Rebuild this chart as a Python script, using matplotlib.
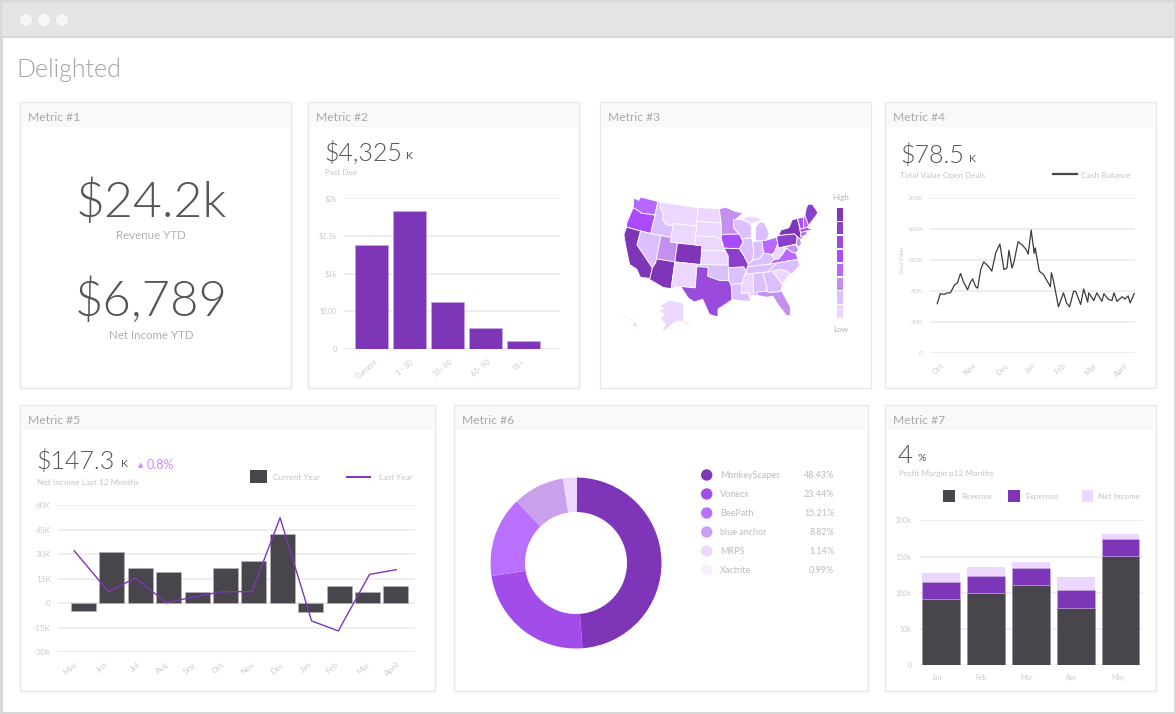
import numpy as np
import matplotlib
matplotlib.use("Agg")
import matplotlib.pyplot as plt
from matplotlib.patches import Rectangle, Circle

W, H = 1176, 714
plt.rcParams['font.family'] = ['Lato', 'DejaVu Sans']

# ----------------------------------------------------------------------
# data
# ----------------------------------------------------------------------
aging_labels = ["Current", "1 - 30", "31- 60", "60- 90", "91+"]
aging_values = [1375, 1831, 625, 275, 102]

cash_days = [0, 3, 7, 10, 13, 17, 20, 23, 26, 30, 33, 35, 38, 40, 43, 46, 50, 53, 54, 58, 62, 66, 69, 71, 74, 76,
             80, 84, 88, 90, 93, 96, 97, 101, 105, 112, 113, 115, 120, 125, 128, 131, 135, 137, 142, 145, 149, 150,
             155, 158, 163, 165, 169, 173, 175, 178, 183, 186, 189, 191, 195]
cash_values = [64, 77, 76, 78, 78, 88, 91, 103, 92, 82, 92, 96, 86, 84, 108, 118, 113, 108, 106, 130, 141, 108, 110,
               133, 110, 118, 144, 140, 134, 128, 159, 129, 136, 106, 102, 86, 104, 94, 60, 78, 65, 60, 80, 80, 63,
               83, 66, 78, 68, 78, 67, 77, 70, 68, 78, 67, 73, 70, 74, 65, 77]
cash_ticks = [1, 32, 64, 92, 122, 152, 182]
cash_labels = ["Oct", "Nov", "Dec", "Jan", "Feb", "Mar", "April"]

income_current = [-4.9, 31.4, 21.4, 19, 7.1, 21.4, 26.1, 42.6, -5.1, 10.8, 7.1, 10.8]
income_last_x = [-0.33, 0.885, 1.82, 2.92, 3.9, 4.86, 5.93, 6.92, 8.03, 8.97, 10.07, 11.01]
income_last = [32.2, 7.1, 15.5, 0.4, 3.9, 7.1, 7.1, 52.4, -10.8, -16.9, 17.7, 20.6]
income_ticks = [-0.47, 0.67, 1.81, 2.77, 3.72, 4.73, 5.76, 6.82, 7.83, 8.73, 9.86, 10.87]
income_labels = ["May", "Jun", "Jul", "Aug", "Sep", "Oct", "Nov", "Dec", "Jan", "Feb", "Mar", "April"]

donut_names = ["MonkeyScapes", "Vonecx", "BeePath", "blue anchor", "MRPS", "Xactrite"]
donut_pct = ["48.43%", "23.44%", "15.21%", "8.82%", "1.14%", "0.99%"]
donut_wedges = [48.6, 23.75, 15.2, 9.8, 2.65]
donut_colors = ["#7e35b8", "#a24de9", "#b970ff", "#c9a0ec", "#ecd8ff", "#f8f0ff"]

margin_months = ["Jan", "Feb", "Mar", "Apr", "May"]
margin_ticks = [-0.10, 0.89, 1.9, 2.9, 3.95]
revenue = [92, 99.4, 111.3, 78.7, 150.9]
expenses = [23.5, 24.3, 23.5, 24.8, 23.4]
net_income = [11.9, 12, 7.2, 18.9, 6.7]

map_colors = ["#ecd8ff", "#dcbfff", "#c58ff0", "#b769ff", "#aa4bff", "#9a4bdc", "#8a3fcd", "#7e35b8"]

state_shapes = {
    "WA": [(-124.7, 48.4), (-123, 48.2), (-122.8, 49), (-117, 49), (-117, 46), (-119, 45.9), (-121, 45.7), (-123, 46.2), (-124, 46.3)],
    "OR": [(-124, 46.3), (-123, 46.2), (-121, 45.7), (-119, 45.9), (-117, 46), (-116.9, 45), (-117, 44.2), (-117, 42), (-124.2, 42), (-124.5, 43)],
    "CA": [(-124.2, 42), (-120, 42), (-120, 39), (-114.6, 35), (-114.7, 32.7), (-117.1, 32.5), (-118.5, 34), (-120.6, 34.6), (-122, 36.8), (-123.8, 39.5), (-124.3, 40.4)],
    "NV": [(-120, 42), (-114, 42), (-114, 36.2), (-114.6, 35), (-120, 39)],
    "ID": [(-117, 49), (-116, 49), (-116, 48), (-114.5, 46.6), (-114.5, 45.6), (-113, 44.5), (-111, 44.5), (-111, 42), (-117, 42), (-117, 44.2), (-116.9, 45), (-117, 46)],
    "MT": [(-116, 49), (-104, 49), (-104, 45), (-111, 45), (-111, 44.5), (-113, 44.5), (-114.5, 45.6), (-114.5, 46.6), (-116, 48)],
    "WY": [(-111, 45), (-104, 45), (-104, 41), (-111, 41)],
    "UT": [(-114, 42), (-111, 42), (-111, 41), (-109, 41), (-109, 37), (-114, 37)],
    "CO": [(-109, 41), (-102, 41), (-102, 37), (-109, 37)],
    "AZ": [(-114, 37), (-109, 37), (-109, 31.3), (-111, 31.3), (-114.8, 32.5), (-114.7, 32.7), (-114.6, 35), (-114, 36.2)],
    "NM": [(-109, 37), (-103, 37), (-103, 32), (-106.6, 32), (-106.5, 31.8), (-108.2, 31.8), (-108.2, 31.3), (-109, 31.3)],
    "ND": [(-104, 49), (-97.2, 49), (-96.6, 46), (-104, 46)],
    "SD": [(-104, 46), (-96.6, 46), (-96.5, 42.5), (-98.5, 43), (-104, 43)],
    "NE": [(-104, 43), (-98.5, 43), (-96.5, 42.5), (-95.3, 40), (-102, 40), (-102, 41), (-104, 41)],
    "KS": [(-102, 40), (-95.3, 40), (-94.6, 39), (-94.6, 37), (-102, 37)],
    "OK": [(-103, 37), (-94.6, 37), (-94.5, 33.7), (-97, 33.8), (-100, 34.6), (-100, 36.5), (-103, 36.5)],
    "TX": [(-103, 36.5), (-100, 36.5), (-100, 34.6), (-97, 33.8), (-94.5, 33.7), (-94, 33), (-93.8, 31.5), (-93.8, 29.7), (-95, 29), (-97.2, 27.7), (-97.2, 26), (-99.2, 26.5), (-101, 29.7), (-103, 29), (-104.5, 29.7), (-106.5, 31.8), (-106.6, 32), (-103, 32)],
    "MN": [(-97.2, 49), (-95, 49.3), (-92, 48.3), (-89.6, 48), (-92, 46.7), (-92.8, 45.6), (-92.8, 44.8), (-91.2, 43.5), (-96.5, 43.5), (-96.6, 46)],
    "IA": [(-96.5, 43.5), (-91.2, 43.5), (-90.2, 41.8), (-91.4, 40.4), (-95.7, 40.6), (-96.5, 42.5)],
    "MO": [(-95.7, 40.6), (-91.4, 40.4), (-90.2, 38.8), (-89.2, 37), (-89.7, 36), (-90.4, 36), (-90.4, 36.5), (-94.6, 36.5), (-94.6, 39), (-95.3, 40)],
    "AR": [(-94.6, 36.5), (-90.4, 36.5), (-90.4, 36), (-89.7, 36), (-91.2, 33), (-94, 33), (-94.5, 33.7)],
    "LA": [(-94, 33), (-91.2, 33), (-91.5, 31), (-89.7, 31), (-89.5, 30.2), (-89.2, 29.2), (-91, 29.3), (-93.8, 29.7), (-93.8, 31.5)],
    "WI": [(-92.8, 46.6), (-90.5, 46.6), (-88, 45.8), (-87.5, 45), (-87.8, 42.5), (-90.6, 42.5), (-91.2, 43.5), (-92.8, 44.8), (-92.8, 45.6)],
    "IL": [(-90.6, 42.5), (-87.8, 42.5), (-87.5, 41.7), (-87.5, 39), (-88, 37.8), (-89.2, 37), (-90.2, 38.8), (-91.4, 40.4), (-90.2, 41.8)],
    "MI": [(-86.8, 41.8), (-84.8, 41.7), (-83.5, 41.7), (-82.5, 43), (-82.8, 44), (-83.5, 45.4), (-84.8, 45.7), (-86.2, 44.7), (-86.5, 43)],
    "MI2": [(-90.5, 46.6), (-88, 47.2), (-85, 46.7), (-84.2, 46), (-87.5, 45.5), (-88, 45.8)],
    "IN": [(-87.5, 41.7), (-84.8, 41.7), (-84.8, 39.1), (-86, 38), (-88, 37.8), (-87.5, 39)],
    "OH": [(-84.8, 41.7), (-83.5, 41.7), (-80.5, 42), (-80.5, 40.6), (-81.7, 39), (-82.6, 38.5), (-84.8, 39.1)],
    "KY": [(-89.2, 37), (-88, 37.8), (-86, 38), (-84.8, 39.1), (-82.6, 38.5), (-82, 37.5), (-83.7, 36.6), (-89.4, 36.5)],
    "TN": [(-89.7, 36), (-89.4, 36.5), (-83.7, 36.6), (-81.7, 36.6), (-84.3, 35), (-90, 35)],
    "MS": [(-91.2, 33), (-90.3, 35), (-88.2, 35), (-88.4, 30.3), (-89.5, 30.2), (-89.7, 31), (-91.5, 31)],
    "AL": [(-88.2, 35), (-85.6, 35), (-85, 32), (-85, 31), (-87.6, 31), (-87.5, 30.3), (-88.4, 30.3)],
    "GA": [(-85.6, 35), (-83.1, 35), (-81, 32), (-81.5, 30.7), (-82.2, 30.5), (-84.9, 30.7), (-85, 31), (-85, 32)],
    "FL": [(-87.6, 31), (-85, 31), (-84.9, 30.7), (-82.2, 30.5), (-81.5, 30.7), (-80, 27), (-80.3, 25.2), (-81.2, 25.2), (-82.8, 27.8), (-83.8, 29.8), (-85.3, 29.7), (-87.5, 30.3)],
    "SC": [(-83.1, 35), (-81, 35.2), (-79.7, 34.8), (-78.6, 33.9), (-81, 32)],
    "NC": [(-84.3, 35), (-81.7, 36.6), (-75.9, 36.6), (-75.6, 35.3), (-78, 33.9), (-78.6, 33.9), (-79.7, 34.8), (-81, 35.2), (-83.1, 35)],
    "VA": [(-83.7, 36.6), (-75.9, 36.6), (-76, 37.9), (-77.2, 38.4), (-78.3, 39.4), (-79.5, 38.4), (-81, 37.4), (-82, 37.5)],
    "WV": [(-82.6, 38.5), (-81.7, 39), (-80.5, 40.6), (-80.5, 39.7), (-79.5, 39.7), (-78.3, 39.4), (-79.5, 38.4), (-81, 37.4), (-82, 37.5)],
    "PA": [(-80.5, 42), (-79.8, 42.3), (-75.3, 42), (-74.7, 41.3), (-75.4, 39.8), (-80.5, 39.7)],
    "NY": [(-79.8, 42.3), (-79, 43.3), (-76.5, 43.5), (-75, 45), (-73.4, 45), (-73.5, 42), (-73.7, 41), (-72, 41), (-74, 40.6), (-74.7, 41.3), (-75.3, 42)],
    "NJ": [(-74.7, 41.3), (-74, 40.6), (-74, 39.6), (-75, 39), (-75.4, 39.8)],
    "MD": [(-79.5, 39.7), (-75.7, 39.7), (-75.1, 38.5), (-76, 38), (-77.2, 38.4), (-78.3, 39.4)],
    "CT": [(-73.5, 42), (-71.8, 42), (-71.8, 41.3), (-73.7, 41)],
    "MA": [(-73.5, 42.7), (-71.3, 42.7), (-70, 41.8), (-71.8, 42), (-73.5, 42)],
    "VT": [(-73.4, 45), (-71.5, 45), (-72.4, 42.7), (-73.3, 42.7)],
    "NH": [(-71.5, 45), (-71, 45.2), (-70.7, 43), (-71.3, 42.7), (-72.4, 42.7)],
    "ME": [(-71, 45.2), (-70, 46.7), (-69, 47.4), (-67.8, 47), (-67, 45), (-70.7, 43)],
}
state_levels = {
    "WA": 4, "OR": 5, "CA": 8, "NV": 2, "ID": 2, "MT": 1, "WY": 1, "UT": 3, "CO": 8, "AZ": 8, "NM": 1, "ND": 1,
    "SD": 1, "NE": 1, "KS": 1, "OK": 2, "TX": 6, "MN": 3, "IA": 5, "MO": 7, "AR": 2, "LA": 2, "WI": 2, "IL": 2,
    "MI": 2, "MI2": 1, "IN": 2, "OH": 4, "KY": 2, "TN": 2, "MS": 1, "AL": 2, "GA": 2, "FL": 3, "SC": 1, "NC": 2,
    "VA": 4, "WV": 1, "PA": 7, "NY": 8, "NJ": 3, "MD": 3, "CT": 4, "MA": 5, "VT": 5, "NH": 4, "ME": 7,
}
alaska_shape = [(-168, 65.5), (-162, 67), (-166, 68.5), (-156, 71.3), (-141, 69.7), (-141, 60.2), (-137, 59), (-130, 55),
                (-133, 56.5), (-140, 59.8), (-147, 60.5), (-152, 59), (-157, 57), (-164, 54.5), (-160, 58.5), (-166, 61.5), (-161, 64)]
hawaii_shapes = [[(-155.9, 20.2), (-155, 19.7), (-155.6, 19), (-156, 19.5)],
                 [(-156.7, 21), (-156, 20.8), (-156.4, 20.5)],
                 [(-158.3, 21.5), (-157.7, 21.5), (-158, 21.3)],
                 [(-159.8, 22.2), (-159.3, 22.2), (-159.5, 21.9)]]

# ----------------------------------------------------------------------
# helpers, everything is placed in pixels of the 1176x714 picture
# ----------------------------------------------------------------------
DARK = "#48454d"
PURPLE = "#7d36b8"
TXT = "#555555"
LABEL = "#c4c4c4"
GRID = "#ebebeb"
LIGHT = 300

fig = plt.figure(figsize=(W / 100, H / 100), dpi=100, facecolor="white")
bg = fig.add_axes([0, 0, 1, 1])
bg.set_xlim(0, W)
bg.set_ylim(H, 0)
bg.axis("off")


def px_axes(x0, y0, x1, y1):
    ax = fig.add_axes([x0 / W, 1 - y1 / H, (x1 - x0) / W, (y1 - y0) / H])
    ax.patch.set_alpha(0)
    return ax


def box(x0, y0, x1, y1, color, ec="none", lw=0, z=1):
    bg.add_patch(Rectangle((x0, y0), x1 - x0, y1 - y0, fc=color, ec=ec, lw=lw, zorder=z))


def txt(x, y, s, size, color=LABEL, ha="left", weight="normal", rotation=0):
    bg.text(x, y + size * 0.06, s, fontsize=size * 0.72, color=color, ha=ha, va="center", fontweight=weight,
            rotation=rotation, zorder=5)


def card(x0, y0, x1, y1, title):
    box(x0, y0, x1, y1, "white", ec="#e8e8e8", lw=1)
    box(x0 + 0.5, y0 + 0.5, x1 - 0.5, y0 + 25, "#f9f9f9", z=2)
    txt(x0 + 8, y0 + 15, title, 12, color="#a8a8a8")


def style_axes(ax, size, pad=5):
    for s in ax.spines.values():
        s.set_visible(False)
    ax.grid(axis="y", color=GRID, lw=1.2)
    ax.set_axisbelow(True)
    ax.tick_params(length=0, labelsize=size * 0.72, labelcolor="#cccccc", pad=pad)


# ----------------------------------------------------------------------
# window and cards
# ----------------------------------------------------------------------
box(1, 1, W - 1, H - 1, "white", ec="#d6d6d6", lw=2)
box(2, 2, W - 2, 36, "#e4e4e4", z=2)
box(2, 36, W - 2, 38, "#d8d8d8", z=2)
for cx in (26, 44, 62):
    bg.add_patch(Circle((cx, 20), 6, fc="#f6f6f6", ec="none", zorder=3))
txt(16, 68, "Delighted", 25, color="#a3a3a3", weight=LIGHT)

card(20, 102, 291, 388, "Metric #1")
card(308, 102, 579, 388, "Metric #2")
card(600, 102, 871, 388, "Metric #3")
card(885, 102, 1156, 388, "Metric #4")
card(20, 405, 435, 691, "Metric #5")
card(454, 405, 868, 691, "Metric #6")
card(885, 405, 1156, 691, "Metric #7")

# ----------------------------------------------------------------------
# 1) big numbers
# ----------------------------------------------------------------------
txt(151, 200, "$24.2k", 50, color=TXT, ha="center", weight=LIGHT)
txt(151, 235, "Revenue YTD", 11.5, color="#b0b0b0", ha="center")
txt(151, 299, "$6,789", 49, color=TXT, ha="center", weight=LIGHT)
txt(151, 335, "Net Income YTD", 11.5, color="#b0b0b0", ha="center")

# ----------------------------------------------------------------------
# 2) past due bars
# ----------------------------------------------------------------------
txt(324, 152, "$4,325", 25, color=TXT, weight=LIGHT)
txt(406, 156, "K", 10.5, color=TXT)
txt(325, 172, "Past Due", 8)

ax = px_axes(344, 198.3, 560, 348.7)
ax.bar(range(5), aging_values, width=0.87, color=PURPLE, edgecolor="#c9a6e6", lw=0.5)
ax.set_xlim(-0.716, 4.97)
ax.set_ylim(0, 2000)
ax.set_yticks([0, 500, 1000, 1500, 2000], ["0", "$500", "$1k", "$1.5k", "$2k"])
ax.set_xticks(np.arange(5) - 0.12, aging_labels, rotation=40)
style_axes(ax, 7.5)
ax.tick_params(axis="x", pad=7)

# ----------------------------------------------------------------------
# 3) map
# ----------------------------------------------------------------------
def albers(lon, lat):
    p1, p2, lat0, lon0 = np.radians([29.5, 45.5, 37.5, -96])
    n = (np.sin(p1) + np.sin(p2)) / 2
    c = np.cos(p1) ** 2 + 2 * n * np.sin(p1)
    rho0 = np.sqrt(c - 2 * n * np.sin(lat0)) / n
    rho = np.sqrt(c - 2 * n * np.sin(np.radians(lat))) / n
    th = n * (np.radians(lon) - lon0)
    return rho * np.sin(th), rho0 - rho * np.cos(th)


ax = px_axes(624, 197, 818, 317)
all_xy = []
for name, shape in state_shapes.items():
    pts = np.array(shape)
    x, y = albers(pts[:, 0], pts[:, 1])
    all_xy.append(np.column_stack([x, y]))
    ax.fill(x, y, fc=map_colors[state_levels[name] - 1], ec="white", lw=0.6)
all_xy = np.vstack(all_xy)
ax.set_xlim(all_xy[:, 0].min(), all_xy[:, 0].max())
ax.set_ylim(all_xy[:, 1].min(), all_xy[:, 1].max())
ax.axis("off")

ax = px_axes(657, 299, 695, 333)
pts = np.array(alaska_shape)
ax.fill(pts[:, 0], pts[:, 1], fc=map_colors[0], ec="none")
ax.axis("off")

ax = px_axes(617, 313, 638, 328)
for shape in hawaii_shapes:
    pts = np.array(shape)
    ax.fill(pts[:, 0], pts[:, 1], fc=map_colors[0], ec="none")
ax.set_xlim(-160.2, -154.8)
ax.axis("off")

for i, c in enumerate(map_colors[::-1]):
    box(837.3, 208 + i * 13.9, 842.7, 220.6 + i * 13.9, c, z=3)
txt(840.5, 197, "High", 8, color="#b0b0b0", ha="center")
txt(840.5, 329, "Low", 8, color="#b0b0b0", ha="center")

# ----------------------------------------------------------------------
# 4) cash balance line
# ----------------------------------------------------------------------
txt(900, 155, "$78.5", 25, color=TXT, weight=LIGHT)
txt(969, 159, "K", 10.5, color=TXT)
txt(900, 175, "Total Value Open Deals", 8.2)
bg.plot([1053, 1077], [174, 174], color=DARK, lw=1.6, zorder=4)
txt(1081, 175, "Cash Balance", 8.5)
txt(902, 260, "Deal Value", 5.5, ha="center", rotation=90)

ax = px_axes(930, 198.3, 1135, 353.3)
ax.plot(cash_days, cash_values, color="#3c3a40", lw=0.9)
ax.set_xlim(-7.2, 195.8)
ax.set_ylim(0, 200)
ax.set_yticks([0, 40, 80, 120, 160, 200], ["0", "40K", "80K", "120K", "160K", "200K"])
ax.set_xticks(cash_ticks, cash_labels, rotation=45)
style_axes(ax, 6.5)
ax.tick_params(axis="x", labelsize=7.8 * 0.72, pad=6)

# ----------------------------------------------------------------------
# 5) net income bars and line
# ----------------------------------------------------------------------
txt(36, 460, "$147.3", 25, color=TXT, weight=LIGHT)
txt(121, 464, "K", 10.5, color=TXT)
txt(141, 464, "▲", 7, color="#c78cff", ha="center")
txt(147, 464, "0.8%", 12.5, color="#c78cff")
txt(37, 482, "Net Income Last 12 Months", 8.3)
box(250, 470, 267, 483, DARK, z=3)
txt(273, 477, "Current Year", 8.3)
bg.plot([346.7, 370], [476.7, 476.7], color=PURPLE, lw=1.4, zorder=4)
txt(379, 477, "Last Year", 8.3)

ax = px_axes(57.7, 505.3, 415, 652.3)
ax.bar(range(12), income_current, width=0.88, color=DARK, edgecolor="#b5b3b8", lw=0.5)
ax.plot(income_last_x, income_last, color=PURPLE, lw=1)
ax.set_xlim(-0.908, 11.67)
ax.set_ylim(-30, 60)
ax.set_yticks([-30, -15, 0, 15, 30, 45, 60], ["-30k", "-15K", "0", "15K", "30K", "45K", "60K"])
ax.set_xticks(income_ticks, income_labels, rotation=40)
style_axes(ax, 8.3)
ax.tick_params(axis="x", pad=6)

# ----------------------------------------------------------------------
# 6) donut
# ----------------------------------------------------------------------
ax = px_axes(486, 473, 666, 653)
ax.pie(donut_wedges, colors=donut_colors, startangle=89.3, counterclock=False, radius=85.5 / 90,
       wedgeprops=dict(width=34.5 / 90, lw=0))
ax.set_xlim(-1, 1)
ax.set_ylim(-1, 1)

for i, (nm, pc, c) in enumerate(zip(donut_names, donut_pct, donut_colors)):
    yy = 475 + i * 19
    bg.add_patch(Circle((706.7, yy), 5.7, fc=c, ec="none", zorder=3))
    txt(720, yy, nm, 9, color="#bdbdbd")
    txt(834, yy, pc, 9, color="#bdbdbd", ha="right")

# ----------------------------------------------------------------------
# 7) stacked bars
# ----------------------------------------------------------------------
txt(898, 454, "4", 26, color=TXT, weight=LIGHT)
txt(918, 458, "%", 10.5, color=TXT)
txt(899, 473, "Profit Margin p12 Months", 8.2)
box(943.3, 490, 955, 501.7, DARK, z=3)
txt(961, 496, "Revenue", 8.2)
box(1008, 490, 1020, 501.7, PURPLE, z=3)
txt(1025, 496, "Expenses", 8.2)
box(1081.7, 490, 1093, 501.7, "#ecd8ff", z=3)
txt(1098, 496, "Net Income", 8.2)

ax = px_axes(920, 520.3, 1142.7, 665.3)
bot2 = np.array(revenue) + np.array(expenses)
ax.bar(range(5), revenue, width=0.845, color=DARK, edgecolor="#8a888d", lw=0.4)
ax.bar(range(5), expenses, bottom=revenue, width=0.845, color=PURPLE, edgecolor="#c9a6e6", lw=0.4)
ax.bar(range(5), net_income, bottom=bot2, width=0.845, color="#ecd8ff", lw=0)
ax.set_xlim(-0.475, 4.496)
ax.set_ylim(0, 200)
ax.set_yticks([0, 50, 100, 150, 200], ["0", "50k", "100k", "150k", "200k"])
ax.set_xticks(margin_ticks, margin_months)
style_axes(ax, 7, pad=6)

fig.savefig("out.png", dpi=100)
